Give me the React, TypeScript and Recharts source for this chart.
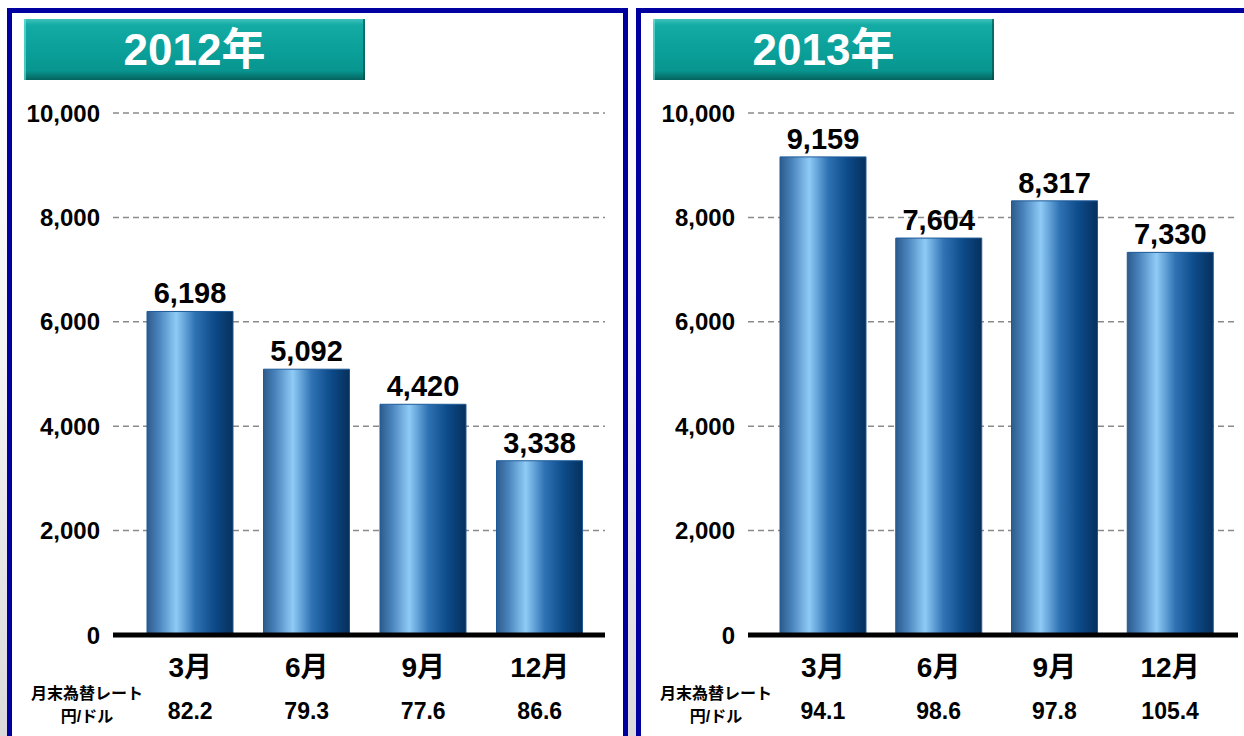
import React from 'react';
import { BarChart, Bar, XAxis, YAxis, CartesianGrid, LabelList } from 'recharts';

const months = ['3月', '6月', '9月', '12月'];
const values2012 = [6198, 5092, 4420, 3338];
const values2013 = [9159, 7604, 8317, 7330];
const rates2012 = ['82.2', '79.3', '77.6', '86.6'];
const rates2013 = ['94.1', '98.6', '97.8', '105.4'];
const yTicks = [0, 2000, 4000, 6000, 8000, 10000];

const FONT = "'Liberation Sans', Arial, 'Noto Sans CJK JP', sans-serif";
const num = new Intl.NumberFormat('en-US');

interface PanelChartProps {
  id: string;
  values: number[];
  rates: string[];
  width: number;
  marginLeft: number;
  marginRight: number;
  padding: { left: number; right: number };
}

const PanelChart: React.FC<PanelChartProps> = ({ id, values, rates, width, marginLeft, marginRight, padding }) => {
  const data = months.map((m, i) => ({ month: m, value: values[i] }));

  const renderTick = (props: any) => {
    const { x, y, payload, index } = props;
    return (
      <g>
        <text x={x} y={y + 42} textAnchor="middle" fontFamily={FONT} fontWeight="bold" fontSize={28} fill="#000">
          {payload.value}
        </text>
        <text x={x} y={y + 84} textAnchor="middle" fontFamily={FONT} fontWeight="bold" fontSize={23} fill="#000">
          {rates[index]}
        </text>
      </g>
    );
  };

  return (
    <BarChart
      width={width}
      height={736}
      data={data}
      margin={{ top: 113, right: marginRight, bottom: 0, left: marginLeft }}
      barSize={86}
    >
      <defs>
        <linearGradient id={`barGrad-${id}`} x1="0" y1="0" x2="1" y2="0">
          <stop offset="0%" stopColor="#2d5b8c" />
          <stop offset="14%" stopColor="#4a84bd" />
          <stop offset="34%" stopColor="#8fcbf6" />
          <stop offset="56%" stopColor="#2f72b3" />
          <stop offset="78%" stopColor="#0d4b8a" />
          <stop offset="100%" stopColor="#06305c" />
        </linearGradient>
      </defs>
      <CartesianGrid vertical={false} stroke="#8a8a8a" strokeDasharray="6 4" strokeWidth={1.5} />
      <XAxis
        dataKey="month"
        height={101}
        padding={padding}
        axisLine={{ stroke: '#000', strokeWidth: 5 }}
        tickLine={false}
        tickSize={0}
        tickMargin={0}
        tick={renderTick}
        interval={0}
      />
      <YAxis
        width={100}
        domain={[0, 10000]}
        ticks={yTicks}
        axisLine={false}
        tickLine={false}
        tickSize={0}
        tickMargin={13}
        tickFormatter={(v: number) => num.format(v)}
        tick={{ fontFamily: FONT, fontWeight: 'bold', fontSize: 24, fill: '#000' }}
      />
      <Bar dataKey="value" fill={`url(#barGrad-${id})`} stroke="#1d5a99" strokeWidth={1} isAnimationActive={false}>
        <LabelList
          dataKey="value"
          position="top"
          offset={8}
          formatter={(v: any) => num.format(v)}
          fill="#000"
          fontFamily={FONT}
          fontWeight="bold"
          fontSize={29}
        />
      </Bar>
    </BarChart>
  );
};

const titleStyle = (left: number): React.CSSProperties => ({
  position: 'absolute',
  left,
  top: 19,
  width: 341,
  height: 61,
  boxSizing: 'border-box',
  background: 'linear-gradient(to bottom, #3ec3bc 0%, #13aba4 10%, #0a9f98 55%, #08958f 85%, #05625e 100%)',
  boxShadow: 'inset 2px 0 0 rgba(120,230,225,0.6), inset -2px 0 0 rgba(0,70,66,0.6)',
  color: '#fff',
  fontFamily: FONT,
  fontWeight: 'bold',
  fontSize: 44,
  lineHeight: '61px',
  textAlign: 'center',
});

const rateLabelStyle = (left: number): React.CSSProperties => ({
  position: 'absolute',
  left,
  top: 682,
  width: 130,
  fontFamily: FONT,
  fontWeight: 'bold',
  fontSize: 16,
  lineHeight: '23px',
  textAlign: 'center',
  color: '#000',
});

const panelStyle = (left: number, width: number): React.CSSProperties => ({
  position: 'absolute',
  left,
  top: 8,
  width,
  height: 740,
  boxSizing: 'border-box',
  border: '5px solid #0000a0',
  background: '#fff',
});

const App: React.FC = () => {
  return (
    <div
      style={{
        position: 'absolute',
        left: 0,
        top: 0,
        width: 1244,
        height: 736,
        overflow: 'hidden',
        background: 'linear-gradient(to bottom, #ffffff 0%, #f4f4f4 50%, #dadada 100%)',
      }}
    >
      <div style={panelStyle(7, 621)} />
      <div style={panelStyle(636, 620)} />
      <div style={titleStyle(24)}>2012年</div>
      <div style={titleStyle(653)}>2013年</div>
      <div style={{ position: 'absolute', left: 0, top: 0 }}>
        <PanelChart
          id="y2012"
          values={values2012}
          rates={rates2012}
          width={628}
          marginLeft={13}
          marginRight={23}
          padding={{ left: 19, right: 7 }}
        />
      </div>
      <div style={{ position: 'absolute', left: 636, top: 0 }}>
        <PanelChart
          id="y2013"
          values={values2013}
          rates={rates2013}
          width={608}
          marginLeft={12}
          marginRight={6}
          padding={{ left: 17, right: 10 }}
        />
      </div>
      <div style={rateLabelStyle(22)}>
        月末為替レート
        <br />
        円/ドル
      </div>
      <div style={rateLabelStyle(651)}>
        月末為替レート
        <br />
        円/ドル
      </div>
    </div>
  );
};

export default App;
